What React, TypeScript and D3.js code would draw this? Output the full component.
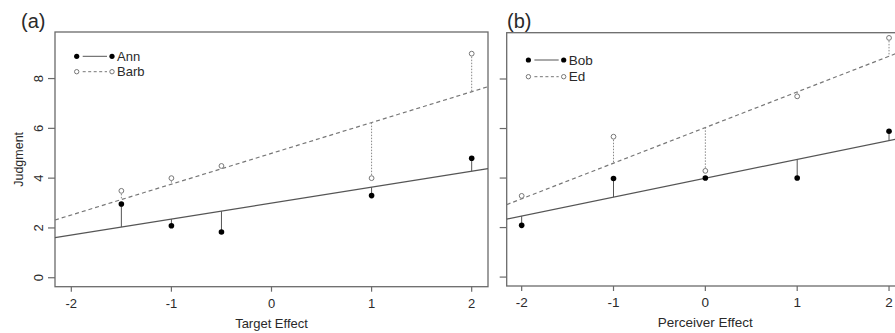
import React from "react";
import * as d3 from "d3";

// panel (a): target effect
const targetX = [-1.5, -1, -0.5, 1, 2];
const annY = [2.96, 2.09, 1.84, 3.3, 4.8];
const barbY = [3.49, 4.0, 4.49, 4.0, 9.0];

// panel (b): perceiver effect
const perceiverX = [-2, -1, 0, 1, 2];
const bobY = [2.09, 3.98, 4.0, 4.0, 5.89];
const edY = [3.28, 5.67, 4.29, 7.3, 9.66];

const xTicks = [-2, -1, 0, 1, 2];
const yTicks = [0, 2, 4, 6, 8];

const AXIS = "#6a6a6a";
const TEXT = "#2a2a2a";
const FONT = "'Liberation Sans', Arial, sans-serif";

function fit(xs: number[], ys: number[]) {
  const mx = d3.mean(xs) as number;
  const my = d3.mean(ys) as number;
  const sxy = d3.sum(xs, (x, i) => (x - mx) * (ys[i] - my));
  const sxx = d3.sum(xs, (x) => (x - mx) * (x - mx));
  const b = sxy / sxx;
  const a = my - b * mx;
  return (x: number) => a + b * x;
}

type PanelProps = {
  tag: string;
  tagX: number;
  xs: number[];
  solid: number[];
  open: number[];
  names: [string, string];
  xLabel: string;
  yLabel?: string;
  box: { left: number; right: number; top: number; bottom: number };
  legendY: [number, number];
  fontSize: number;
};

function Panel({ tag, tagX, xs, solid, open, names, xLabel, yLabel, box, legendY, fontSize }: PanelProps) {
  const xLim: [number, number] = [-2.163, 2.163];
  const x = d3.scaleLinear().domain(xLim).range([box.left, box.right]);
  const y = d3.scaleLinear().domain([-0.36, 9.87]).range([box.bottom, box.top]);

  const fSolid = fit(xs, solid);
  const fOpen = fit(xs, open);
  const ln = (f: (v: number) => number) =>
    d3.line<number>().x((v) => x(v)).y((v) => y(f(v)))(xLim) as string;

  const lx0 = box.left + 21.7;
  const lx1 = box.left + 57;

  return (
    <g fontFamily={FONT}>
      <text x={tagX} y={28} fontSize={20} fill={TEXT}>{tag}</text>
      <rect x={box.left} y={box.top} width={box.right - box.left} height={box.bottom - box.top}
        fill="none" stroke={AXIS} strokeWidth={1.3} />

      {/* regression lines */}
      <path d={ln(fSolid)} fill="none" stroke="#555" strokeWidth={1.2} />
      <path d={ln(fOpen)} fill="none" stroke="#777" strokeWidth={1.2} strokeDasharray="4,3" />

      {/* residuals */}
      {xs.map((v, i) => (
        <line key={"rs" + i} x1={x(v)} x2={x(v)} y1={y(solid[i])} y2={y(fSolid(v))}
          stroke="#555" strokeWidth={1} />
      ))}
      {xs.map((v, i) => (
        <line key={"ro" + i} x1={x(v)} x2={x(v)} y1={y(open[i])} y2={y(fOpen(v))}
          stroke="#888" strokeWidth={1} strokeDasharray="1.5,1.5" />
      ))}

      {/* points */}
      {xs.map((v, i) => (
        <circle key={"ps" + i} cx={x(v)} cy={y(solid[i])} r={2.8} fill="#000" />
      ))}
      {xs.map((v, i) => (
        <circle key={"po" + i} cx={x(v)} cy={y(open[i])} r={2.4} fill="#fff" stroke="#777" strokeWidth={1} />
      ))}

      {/* y axis */}
      {yTicks.map((t) => (
        <g key={"yt" + t}>
          <line x1={box.left - 7} x2={box.left} y1={y(t)} y2={y(t)} stroke={AXIS} strokeWidth={1.2} />
          {yLabel && (
            <text transform={`translate(${box.left - 12},${y(t)}) rotate(-90)`} textAnchor="middle"
              fontSize={fontSize} fill={TEXT}>{t}</text>
          )}
        </g>
      ))}
      {yLabel && (
        <text transform={`translate(${box.left - 32},${(box.top + box.bottom) / 2}) rotate(-90)`}
          textAnchor="middle" fontSize={fontSize - 0.5} fill={TEXT}>{yLabel}</text>
      )}

      {/* x axis */}
      {xTicks.map((t) => (
        <g key={"xt" + t}>
          <line x1={x(t)} x2={x(t)} y1={box.bottom} y2={box.bottom + 5} stroke={AXIS} strokeWidth={1.2} />
          <text x={x(t)} y={box.bottom + 21} textAnchor="middle" fontSize={fontSize} fill={TEXT}>{t}</text>
        </g>
      ))}
      <text x={x(0)} y={box.bottom + 41} textAnchor="middle" fontSize={fontSize} fill={TEXT}>{xLabel}</text>

      {/* legend */}
      <line x1={lx0 + 6} x2={lx1 - 5} y1={legendY[0]} y2={legendY[0]} stroke="#555" strokeWidth={1} />
      <circle cx={lx0} cy={legendY[0]} r={2.6} fill="#000" />
      <circle cx={lx1} cy={legendY[0]} r={2.6} fill="#000" />
      <text x={lx1 + 5} y={legendY[0] + 4.7} fontSize={fontSize} fill={TEXT}>{names[0]}</text>
      <line x1={lx0 + 6} x2={lx1 - 5} y1={legendY[1]} y2={legendY[1]} stroke="#777" strokeWidth={1}
        strokeDasharray="3,2.5" />
      <circle cx={lx0} cy={legendY[1]} r={2.2} fill="#fff" stroke="#777" />
      <circle cx={lx1} cy={legendY[1]} r={2.2} fill="#fff" stroke="#777" />
      <text x={lx1 + 5} y={legendY[1] + 4.7} fontSize={fontSize} fill={TEXT}>{names[1]}</text>
    </g>
  );
}

export default function App() {
  return (
    <svg width={895} height={333} style={{ position: "absolute", left: 0, top: 0, background: "#fff" }}>
      <Panel tag="(a)" tagX={21} xs={targetX} solid={annY} open={barbY} names={["Ann", "Barb"]}
        xLabel="Target Effect" yLabel="Judgment"
        box={{ left: 55, right: 488, top: 32, bottom: 286.7 }} legendY={[56.3, 71.7]} fontSize={13} />
      <Panel tag="(b)" tagX={507} xs={perceiverX} solid={bobY} open={edY} names={["Bob", "Ed"]}
        xLabel="Perceiver Effect"
        box={{ left: 506.7, right: 904, top: 32.7, bottom: 286 }} legendY={[60, 76.7]} fontSize={13.5} />
    </svg>
  );
}
